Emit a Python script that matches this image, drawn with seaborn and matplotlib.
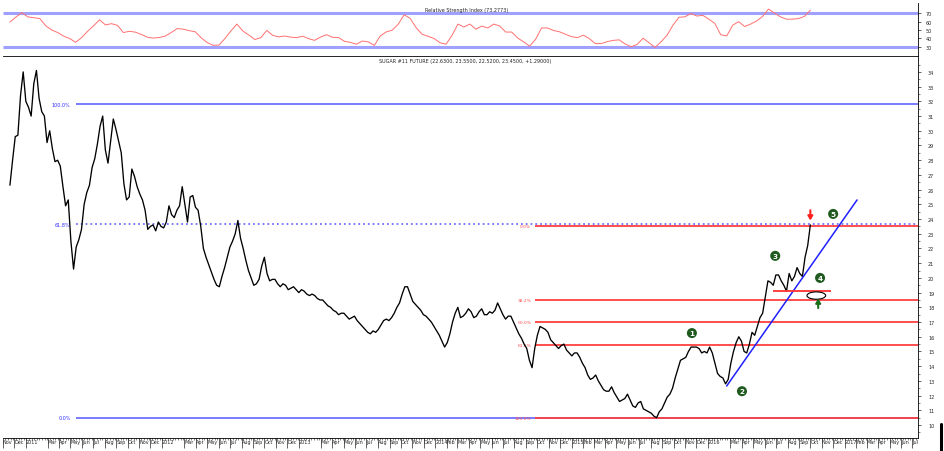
import pandas as pd
import matplotlib
matplotlib.use("Agg")
import matplotlib.pyplot as plt
import matplotlib.dates as mdates
from matplotlib.patches import Ellipse
from matplotlib.lines import Line2D
import seaborn as sns

# weekly closes
price = [
    26.3, 28.0, 29.6, 29.7, 32.4, 34.0, 32.0, 31.6, 31.0, 33.2,
    34.1, 32.2, 31.3, 31.0, 29.2, 30.0, 28.8, 27.9, 28.0, 27.6,
    26.2, 24.9, 25.3, 22.5, 20.6, 22.1, 22.6, 23.3, 25.0, 25.8,
    26.3, 27.5, 28.1, 29.1, 30.3, 31.0, 28.7, 27.8, 29.3, 30.8,
    30.1, 29.3, 28.5, 26.4, 25.3, 25.5, 27.4, 26.9, 26.2, 25.7,
    25.3, 24.6, 23.3, 23.5, 23.6, 23.2, 23.8, 23.5, 23.4, 23.8,
    24.9, 24.3, 24.1, 24.6, 24.9, 26.2, 25.0, 23.8, 25.5, 25.6,
    24.8, 24.6, 23.5, 22.0, 21.4, 20.9, 20.4, 19.9, 19.5, 19.4,
    20.1, 20.7, 21.4, 22.1, 22.5, 23.0, 23.9, 22.7, 22.0, 21.2,
    20.5, 20.0, 19.5, 19.6, 19.9, 20.8, 21.4, 20.3, 19.8, 19.9,
    19.9, 19.6, 19.4, 19.6, 19.5, 19.2, 19.3, 19.4, 19.2, 19.0,
    19.2, 19.1, 18.9, 18.8, 18.9, 18.8, 18.6, 18.5, 18.5, 18.3,
    18.1, 18.0, 17.8, 17.7, 17.5, 17.6, 17.6, 17.4, 17.2, 17.3,
    17.4, 17.1, 16.9, 16.7, 16.5, 16.3, 16.2, 16.4, 16.3, 16.5,
    16.8, 17.1, 17.2, 17.1, 17.3, 17.6, 18.0, 18.3, 18.9, 19.4,
    19.4, 18.9, 18.4, 18.2, 18.0, 17.8, 17.5, 17.4, 17.2, 17.0,
    16.7, 16.4, 16.1, 15.7, 15.3, 15.6, 16.2, 17.0, 17.6, 18.0,
    17.3, 17.4, 17.6, 17.9, 17.7, 17.3, 17.4, 17.7, 17.9, 17.5,
    17.5, 17.7, 17.6, 17.8, 18.3, 17.9, 17.5, 17.2, 17.4, 17.4,
    17.0, 16.6, 16.2, 15.9, 15.5, 15.2, 14.4, 13.9, 15.2, 16.1,
    16.7, 16.6, 16.5, 16.3, 15.8, 15.6, 15.4, 15.2, 15.4, 15.5,
    15.1, 14.9, 14.7, 14.9, 14.9, 14.6, 14.2, 13.9, 13.4, 13.1,
    13.2, 13.4, 13.0, 12.7, 12.4, 12.3, 12.3, 12.6, 12.2, 11.9,
    11.6, 11.7, 11.8, 12.1, 11.7, 11.3, 11.2, 11.5, 11.6, 11.1,
    11.0, 10.9, 10.8, 10.6, 10.5, 10.9, 11.1, 11.5, 11.9, 12.1,
    12.5, 13.2, 13.8, 14.4, 14.5, 14.6, 15.0, 15.3, 15.3, 15.3,
    15.2, 14.9, 15.0, 14.9, 15.3, 14.9, 14.2, 13.5, 13.3, 13.2,
    12.8, 13.1, 14.2, 15.0, 15.6, 16.0, 15.7, 15.0, 14.9, 15.5,
    16.3, 16.1, 16.7, 17.3, 17.6, 18.7, 19.8, 19.7, 19.5, 20.2,
    20.2, 19.8, 19.5, 19.1, 20.3, 19.8, 20.1, 20.7, 20.3, 20.1,
    21.4, 22.2, 23.6,
]

rsi = [
    59.4, 65.3, 70.5, 65.5, 64.5, 63.5, 55.0, 50.0, 47.0, 42.8,
    40.0, 35.5, 41.0, 48.5, 55.0, 62.0, 56.0, 57.5, 55.5, 47.0,
    48.5, 47.5, 44.8, 41.5, 40.5, 41.2, 42.8, 47.0, 51.7, 51.0,
    49.3, 48.0, 41.0, 35.3, 32.0, 32.2, 40.0, 49.0, 57.0, 48.8,
    44.0, 38.8, 41.0, 49.5, 43.7, 41.9, 42.9, 41.6, 41.0, 42.7,
    39.8, 37.8, 41.7, 44.5, 41.4, 41.2, 36.7, 35.4, 33.2, 37.0,
    36.0, 31.8, 43.0, 47.8, 49.8, 56.8, 68.0, 63.7, 52.8, 45.0,
    42.6, 40.0, 35.0, 33.2, 43.5, 57.0, 53.5, 57.0, 51.0, 54.7,
    52.4, 57.0, 54.7, 47.6, 47.6, 40.6, 36.0, 31.0, 39.0, 52.4,
    52.4, 49.5, 47.9, 45.0, 42.2, 41.0, 43.9, 39.9, 34.0, 34.0,
    36.3, 37.8, 38.4, 33.5, 30.3, 33.0, 40.3, 35.0, 29.5, 36.0,
    43.8, 55.7, 65.0, 65.6, 69.4, 66.5, 67.3, 62.8, 57.8, 44.4,
    43.0, 55.7, 59.8, 54.1, 57.0, 60.6, 66.0, 74.7, 70.0, 65.5,
    62.8, 62.8, 63.5, 66.0, 73.3,
]

first_day = "2010-11-20"
last_day = "2016-10-01"
view_start = "2010-11-01"
view_end = "2017-07-15"

blue_fib_levels = [31.8, 23.66, 10.5]
blue_fib_labels = ["100.0%", "61.8%", "0.0%"]
blue_fib_start = "2011-05-16"
red_fib_levels = [23.5, 18.53, 17.0, 15.47, 10.5]
red_fib_labels = ["0.0%", "38.2%", "50.0%", "61.8%", "100.0%"]
red_fib_start = "2014-09-26"

wave_dates = ["2015-11-19", "2016-04-01", "2016-06-29", "2016-10-27", "2016-12-01"]
wave_values = [16.25, 12.3, 21.5, 20.0, 24.35]
wave_labels = ["1", "2", "3", "4", "5"]

trend_dates = ["2016-02-20", "2017-02-03"]
trend_values = [12.65, 25.3]
support_dates = ["2016-06-23", "2016-11-26"]
support_value = 19.1

sns.set_theme(style="white")
plt.rcParams["font.family"] = ["DejaVu Sans"]

fig = plt.figure(figsize=(9.45, 4.52), dpi=100)
ax_rsi = fig.add_axes([0.003, 0.874, 0.968, 0.117])
ax = fig.add_axes([0.003, 0.0288, 0.968, 0.845], sharex=ax_rsi)

df = pd.DataFrame({"date": pd.date_range(first_day, last_day, periods=len(price)), "price": price})
rsi_df = pd.DataFrame({"date": pd.date_range(first_day, last_day, periods=len(rsi)), "rsi": rsi})

x0, x1 = pd.Timestamp(view_start), pd.Timestamp(view_end)

# RSI panel
for lvl in [70, 30]:
    ax_rsi.hlines(lvl, x0, x1, color="#a0a0ff", lw=2.2, zorder=1)
sns.lineplot(data=rsi_df, x="date", y="rsi", ax=ax_rsi, color="#ff7070", lw=0.7, zorder=3)
ax_rsi.set_ylim(19.4, 81.8)
ax_rsi.yaxis.tick_right()
ax_rsi.set_yticks([30, 40, 50, 60, 70])
ax_rsi.tick_params(axis="y", labelsize=3.5, length=2, pad=4, right=True, width=0.5)
ax_rsi.tick_params(axis="x", bottom=False, labelbottom=False)
ax_rsi.set_xlabel("")
ax_rsi.set_ylabel("")
for s in ["top", "left"]:
    ax_rsi.spines[s].set_visible(False)
for s in ["right", "bottom"]:
    ax_rsi.spines[s].set_color("black")
    ax_rsi.spines[s].set_linewidth(0.6)
ax_rsi.text(0.507, 0.92, "Relative Strength Index (73.2773)", transform=ax_rsi.transAxes,
            ha="center", va="top", fontsize=3.5)

# price panel
for lvl, lab in zip(blue_fib_levels, blue_fib_labels):
    ls = ":" if lab == "61.8%" else "-"
    ax.hlines(lvl, pd.Timestamp(blue_fib_start), x1, color="#7070ff", lw=1.3, ls=ls, zorder=1)
    ax.annotate(lab, (pd.Timestamp(blue_fib_start), lvl), xytext=(-4, 0), textcoords="offset points",
                ha="right", va="center", fontsize=3.5, color="#3030ff")
for lvl, lab in zip(red_fib_levels, red_fib_labels):
    ax.hlines(lvl, pd.Timestamp(red_fib_start), x1, color="#ff4040", lw=1.3, zorder=2)
    ax.annotate(lab, (pd.Timestamp(red_fib_start), lvl), xytext=(-3, 0), textcoords="offset points",
                ha="right", va="center", fontsize=3.2, color="#ff5050")

sns.lineplot(data=df, x="date", y="price", ax=ax, color="black", lw=0.95, zorder=4)

ax.plot(pd.to_datetime(trend_dates), trend_values, color="#2020ff", lw=1.1, zorder=5)
ax.hlines(support_value, pd.Timestamp(support_dates[0]), pd.Timestamp(support_dates[1]),
          color="#ff3030", lw=1.3, zorder=5)

ell_x = mdates.date2num(pd.Timestamp("2016-10-17"))
ax.add_patch(Ellipse((ell_x, 18.8), width=50, height=0.5, fc="white", ec="black", lw=0.8, zorder=6))
arrow_style = "-|>,head_width=0.12,head_length=0.2"
ax.annotate("", xy=(pd.Timestamp("2016-10-22"), 18.6), xytext=(pd.Timestamp("2016-10-22"), 17.95),
            arrowprops=dict(arrowstyle=arrow_style, color="#1a6e1a", lw=1.5, shrinkA=0, shrinkB=0),
            zorder=7)
ax.annotate("", xy=(pd.Timestamp("2016-10-01"), 23.9), xytext=(pd.Timestamp("2016-10-01"), 24.6),
            arrowprops=dict(arrowstyle=arrow_style, color="#ff2020", lw=1.5, shrinkA=0, shrinkB=0),
            zorder=7)

for d, v, lab in zip(wave_dates, wave_values, wave_labels):
    ax.text(pd.Timestamp(d), v, lab, ha="center", va="center", fontsize=5.2, color="white",
            fontweight="bold", zorder=8,
            bbox=dict(boxstyle="circle,pad=0.28", fc="#1f5a1f", ec="none"))

ax.set_xlim(x0, x1)
ax.set_ylim(9.12, 35.08)
ax.yaxis.tick_right()
ax.set_yticks(range(10, 35))
ax.set_yticks([v + 0.5 for v in range(9, 35)], minor=True)
ax.tick_params(axis="y", which="major", labelsize=3.5, length=2.5, pad=5, right=True, width=0.5)
ax.tick_params(axis="y", which="minor", length=1.5, right=True, width=0.4)
ax.set_xlabel("")
ax.set_ylabel("")

months = pd.date_range("2010-11-01", "2017-07-01", freq="MS")
skip_feb = {2011, 2012, 2013, 2016}
ticks, labels = [], []
for m in months:
    if m.month == 2 and m.year in skip_feb:
        continue
    ticks.append(m)
    labels.append(str(m.year) if m.month == 1 else m.strftime("%b"))
ax.set_xticks(ticks)
ax.set_xticklabels(labels)
ax.xaxis.set_minor_locator(mdates.WeekdayLocator(byweekday=mdates.MO))
ax.tick_params(axis="x", which="major", labelsize=3.5, length=7, width=0.5, pad=-6, bottom=True)
ax.tick_params(axis="x", which="minor", length=1.5, width=0.4, bottom=True)
for lab in ax.get_xticklabels():
    lab.set_ha("left")

ax.spines["left"].set_visible(False)
for s in ["right", "bottom", "top"]:
    ax.spines[s].set_color("black")
    ax.spines[s].set_linewidth(0.6)

ax.text(0.505, 0.995, "SUGAR #11 FUTURE (22.6300, 23.5500, 22.5200, 23.4500, +1.29000)",
        transform=ax.transAxes, ha="center", va="top", fontsize=3.5)

fig.add_artist(Line2D([0.996, 0.996], [0.0, 0.06], color="black", lw=2.2, transform=fig.transFigure))

fig.savefig("out.png", dpi=100)
